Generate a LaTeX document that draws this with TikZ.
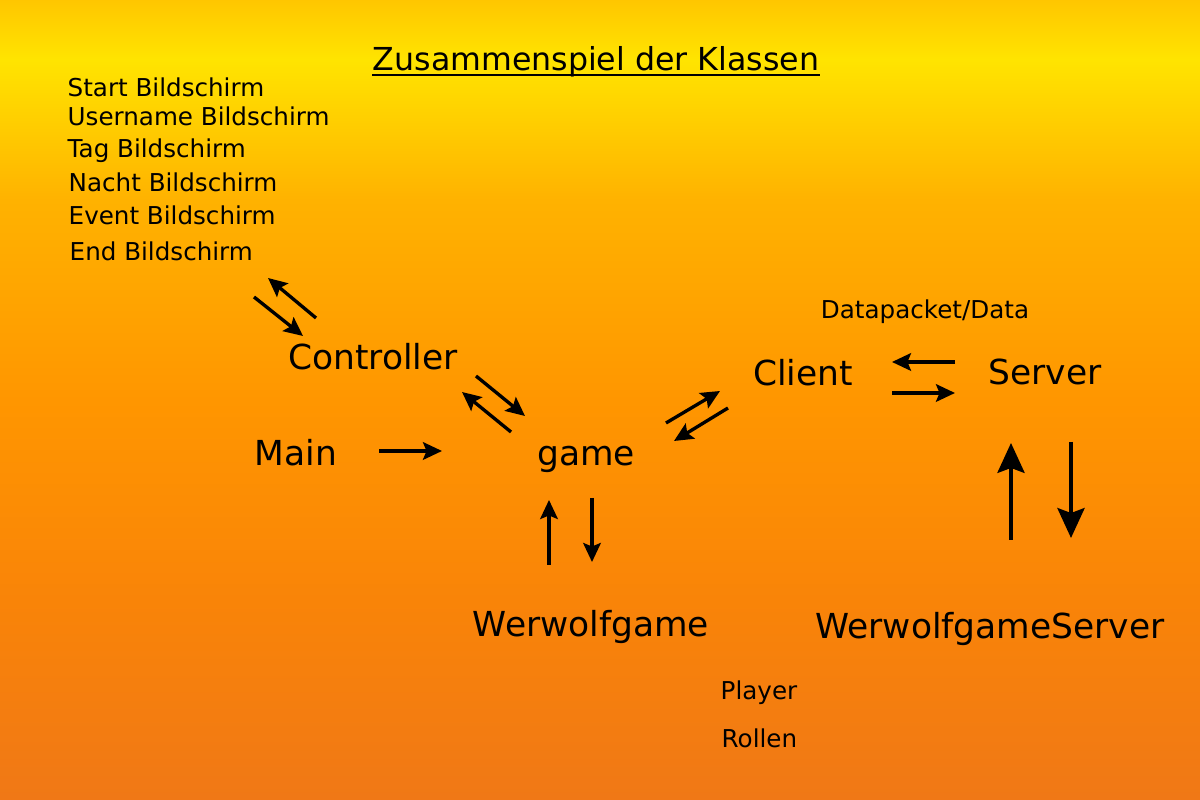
\documentclass[tikz,border=0pt]{standalone}
\usepackage{fontspec}
\setmainfont{DejaVu Sans}
\usetikzlibrary{arrows.meta,positioning}
\definecolor{bgtop}{RGB}{255,198,0}
\definecolor{bgyellow}{RGB}{255,228,0}
\definecolor{bgupper}{RGB}{255,178,0}
\definecolor{bgmid}{RGB}{255,150,0}
\definecolor{bglower}{RGB}{249,132,8}
\definecolor{bgbottom}{RGB}{240,120,22}
\pgfdeclareverticalshading{sunset}{100bp}{color(0bp)=(bgbottom); color(25bp)=(bgbottom); color(37.5bp)=(bglower); color(50bp)=(bgmid); color(62.5bp)=(bgupper); color(71.25bp)=(bgyellow); color(75bp)=(bgtop); color(100bp)=(bgtop)}

\begin{document}
\begin{tikzpicture}[
    cls/.style={inner sep=0pt, anchor=base, font=\fontsize{9.8}{11}\selectfont},
    scr/.style={inner sep=0pt, anchor=base west, font=\fontsize{7}{8}\selectfont},
    arr/.style={line width=0.95pt, -{Stealth[length=5.4pt, width=5pt, inset=1pt]}},
    bigarr/.style={line width=1.15pt, -{Stealth[length=8.5pt, width=7.7pt, inset=1.4pt]}}]
        \shade[shading=sunset] (0,0) rectangle (12,8);
        \useasboundingbox (0,0) rectangle (12,8);

        % title
        \node[inner sep=0pt, anchor=base, font=\fontsize{9}{10}\selectfont] (title) at (5.96,7.29) {Zusammenspiel der Klassen};
        \draw[line width=0.6pt] ([yshift=-0.04cm]title.base west) -- ([yshift=-0.04cm]title.base east);

        % screens
        \node[scr] (start) at (0.67,7.03) {Start Bildschirm};
        \node[scr] (user) at (0.67,6.74) {Username Bildschirm};
        \node[scr] (tag) at (0.67,6.42) {Tag Bildschirm};
        \node[scr] (nacht) at (0.68,6.08) {Nacht Bildschirm};
        \node[scr] (event) at (0.68,5.75) {Event Bildschirm};
        \node[scr] (end) at (0.69,5.39) {End Bildschirm};

        % classes
        \node[cls] (ctrl) at (3.73,4.30) {Controller};
        \node[cls] (main) at (2.96,3.34) {Main};
        \node[cls] (game) at (5.86,3.34) {game};
        \node[cls] (client) at (8.03,4.14) {Client};
        \node[cls] (server) at (10.45,4.15) {Server};
        \node[cls, font=\fontsize{7}{8}\selectfont] (data) at (9.25,4.81) {Datapacket/Data};
        \node[cls] (wg) at (5.91,1.63) {Werwolfgame};
        \node[cls] (wgs) at (9.90,1.61) {WerwolfgameServer};
        \node[scr] (player) at (7.20,1.00) {Player};
        \node[scr] (rollen) at (7.21,0.52) {Rollen};

        % arrow ends
        \coordinate (ctrlA) at (3.16,4.82); \coordinate (scrA) at (2.68,5.22);
        \coordinate (scrB) at (2.54,5.03); \coordinate (ctrlB) at (3.03,4.64);
        \coordinate (ctrlC) at (4.76,4.24); \coordinate (gameC) at (5.25,3.84);
        \coordinate (gameD) at (5.11,3.68); \coordinate (ctrlD) at (4.62,4.08);
        \coordinate (mainE) at (3.79,3.49); \coordinate (gameE) at (4.42,3.49);
        \coordinate (gameF) at (6.66,3.77); \coordinate (clientF) at (7.20,4.09);
        \coordinate (clientG) at (7.28,3.92); \coordinate (gameG) at (6.74,3.59);
        \coordinate (serverH) at (9.55,4.38); \coordinate (clientH) at (8.92,4.38);
        \coordinate (clientI) at (8.92,4.07); \coordinate (serverI) at (9.55,4.07);
        \coordinate (wgJ) at (5.49,2.35); \coordinate (gameJ) at (5.49,3.00);
        \coordinate (gameK) at (5.92,3.02); \coordinate (wgK) at (5.92,2.38);
        \coordinate (wgsL) at (10.11,2.60); \coordinate (serverL) at (10.11,3.57);
        \coordinate (serverM) at (10.71,3.58); \coordinate (wgsM) at (10.71,2.62);

        \draw[arr] (ctrlA) -- (scrA);
        \draw[arr] (scrB) -- (ctrlB);
        \draw[arr] (ctrlC) -- (gameC);
        \draw[arr] (gameD) -- (ctrlD);
        \draw[arr] (mainE) -- (gameE);
        \draw[arr] (gameF) -- (clientF);
        \draw[arr] (clientG) -- (gameG);
        \draw[arr] (serverH) -- (clientH);
        \draw[arr] (clientI) -- (serverI);
        \draw[arr] (wgJ) -- (gameJ);
        \draw[arr] (gameK) -- (wgK);
        \draw[bigarr] (wgsL) -- (serverL);
        \draw[bigarr] (serverM) -- (wgsM);
      \end{tikzpicture}
\end{document}
